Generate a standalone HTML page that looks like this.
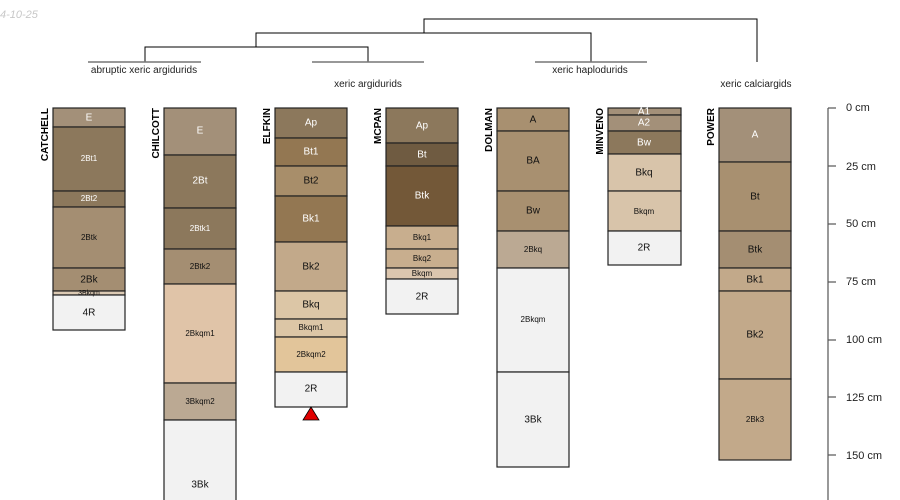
<!DOCTYPE html>
<html><head><meta charset="utf-8"><style>
html,body{margin:0;padding:0;background:#fff;width:900px;height:500px;overflow:hidden}
svg{display:block}
text{font-family:"Liberation Sans",sans-serif}
</style></head><body>
<svg width="900" height="500" viewBox="0 0 900 500" xmlns="http://www.w3.org/2000/svg">
<text x="0" y="18" font-size="11" font-style="italic" fill="#c8c8c8">4-10-25</text>

<!-- dendrogram -->
<g stroke="#000" stroke-width="1" fill="none">
<polyline points="145,62 145,47 368,47 368,62"/>
<polyline points="256,47 256,33 591,33 591,62"/>
<polyline points="424,33 424,19 757,19 757,62"/>
</g>
<g stroke="#777" stroke-width="1.5">
<line x1="88" y1="62" x2="201" y2="62"/>
<line x1="312" y1="62" x2="424" y2="62"/>
<line x1="535" y1="62" x2="647" y2="62"/>
</g>
<g font-size="10" fill="#222" text-anchor="middle">
<text x="144" y="73">abruptic xeric argidurids</text>
<text x="368" y="87">xeric argidurids</text>
<text x="590" y="73">xeric haplodurids</text>
<text x="756" y="87">xeric calciargids</text>
</g>

<!-- profile names -->
<g font-size="10" font-weight="bold" fill="#000" text-anchor="end">
<text transform="translate(48,108) rotate(-90)">CATCHELL</text>
<text transform="translate(159,108) rotate(-90)">CHILCOTT</text>
<text transform="translate(270,108) rotate(-90)">ELFKIN</text>
<text transform="translate(381,108) rotate(-90)">MCPAN</text>
<text transform="translate(492,108) rotate(-90)">DOLMAN</text>
<text transform="translate(603,108) rotate(-90)">MINVENO</text>
<text transform="translate(714,108) rotate(-90)">POWER</text>
</g>

<g stroke="#222" stroke-width="1.2">
<!-- CATCHELL x53 w72 -->
<rect x="53" y="108" width="72" height="19" fill="#a39079"/>
<rect x="53" y="127" width="72" height="64" fill="#8c785c"/>
<rect x="53" y="191" width="72" height="16" fill="#8c785c"/>
<rect x="53" y="207" width="72" height="61" fill="#a48e72"/>
<rect x="53" y="268" width="72" height="23" fill="#a48e72"/>
<rect x="53" y="291" width="72" height="4" fill="#dccab4"/>
<rect x="53" y="295" width="72" height="35" fill="#f2f2f2"/>
<!-- CHILCOTT -->
<rect x="164" y="108" width="72" height="47" fill="#a39079"/>
<rect x="164" y="155" width="72" height="53" fill="#8c785c"/>
<rect x="164" y="208" width="72" height="41" fill="#8c785c"/>
<rect x="164" y="249" width="72" height="35" fill="#a48e72"/>
<rect x="164" y="284" width="72" height="99" fill="#e0c4a8"/>
<rect x="164" y="383" width="72" height="37" fill="#bba993"/>
<rect x="164" y="420" width="72" height="85" fill="#f2f2f2"/>
<!-- ELFKIN -->
<rect x="275" y="108" width="72" height="30" fill="#8c785c"/>
<rect x="275" y="138" width="72" height="28" fill="#937752"/>
<rect x="275" y="166" width="72" height="30" fill="#a88e6a"/>
<rect x="275" y="196" width="72" height="46" fill="#937752"/>
<rect x="275" y="242" width="72" height="49" fill="#c2a98a"/>
<rect x="275" y="291" width="72" height="28" fill="#dcc6a6"/>
<rect x="275" y="319" width="72" height="18" fill="#dcc6a6"/>
<rect x="275" y="337" width="72" height="35" fill="#e2c59a"/>
<rect x="275" y="372" width="72" height="35" fill="#f2f2f2"/>
<!-- MCPAN -->
<rect x="386" y="108" width="72" height="35" fill="#8c785c"/>
<rect x="386" y="143" width="72" height="23" fill="#6f5b41"/>
<rect x="386" y="166" width="72" height="60" fill="#735838"/>
<rect x="386" y="226" width="72" height="23" fill="#c8ae8e"/>
<rect x="386" y="249" width="72" height="19" fill="#c8ae8e"/>
<rect x="386" y="268" width="72" height="11" fill="#dcc6ae"/>
<rect x="386" y="279" width="72" height="35" fill="#f2f2f2"/>
<!-- DOLMAN -->
<rect x="497" y="108" width="72" height="23" fill="#a89070"/>
<rect x="497" y="131" width="72" height="60" fill="#a89070"/>
<rect x="497" y="191" width="72" height="40" fill="#a89070"/>
<rect x="497" y="231" width="72" height="37" fill="#bba993"/>
<rect x="497" y="268" width="72" height="104" fill="#f2f2f2"/>
<rect x="497" y="372" width="72" height="95" fill="#f2f2f2"/>
<!-- MINVENO -->
<rect x="608" y="108" width="73" height="7" fill="#a39079"/>
<rect x="608" y="115" width="73" height="16" fill="#a39079"/>
<rect x="608" y="131" width="73" height="23" fill="#8c785c"/>
<rect x="608" y="154" width="73" height="37" fill="#d8c4aa"/>
<rect x="608" y="191" width="73" height="40" fill="#d8c4aa"/>
<rect x="608" y="231" width="73" height="34" fill="#f2f2f2"/>
<!-- POWER -->
<rect x="719" y="108" width="72" height="54" fill="#a39079"/>
<rect x="719" y="162" width="72" height="69" fill="#a89070"/>
<rect x="719" y="231" width="72" height="37" fill="#a48e72"/>
<rect x="719" y="268" width="72" height="23" fill="#c2a98a"/>
<rect x="719" y="291" width="72" height="88" fill="#c2a98a"/>
<rect x="719" y="379" width="72" height="81" fill="#c2a98a"/>
</g>

<polygon points="311,407 303,420 319,420" fill="#e00000" stroke="#000" stroke-width="0.8"/>

<!-- horizon labels -->
<g text-anchor="middle" dominant-baseline="middle" font-size="10">
<g fill="#fff"><text x="89" y="118">E</text><text x="89" y="159" font-size="8">2Bt1</text><text x="89" y="199" font-size="8">2Bt2</text>
<text x="200" y="131">E</text><text x="200" y="181">2Bt</text><text x="200" y="229" font-size="8">2Btk1</text>
<text x="311" y="123">Ap</text><text x="311" y="152">Bt1</text><text x="311" y="219">Bk1</text>
<text x="422" y="126">Ap</text><text x="422" y="155">Bt</text><text x="422" y="196">Btk</text>
<text x="644" y="112">A1</text><text x="644" y="123">A2</text><text x="644" y="143">Bw</text>
<text x="755" y="135">A</text></g>
<g fill="#111">
<text x="89" y="238" font-size="8">2Btk</text><text x="89" y="280">2Bk</text><text x="89" y="293" font-size="7">3Bkqm</text><text x="89" y="313">4R</text>
<text x="200" y="267" font-size="8">2Btk2</text><text x="200" y="334" font-size="8">2Bkqm1</text><text x="200" y="402" font-size="8">3Bkqm2</text><text x="200" y="485">3Bk</text>
<text x="311" y="181">Bt2</text><text x="311" y="267">Bk2</text><text x="311" y="305">Bkq</text><text x="311" y="328" font-size="8">Bkqm1</text><text x="311" y="355" font-size="8">2Bkqm2</text><text x="311" y="389">2R</text>
<text x="422" y="238" font-size="8">Bkq1</text><text x="422" y="259" font-size="8">Bkq2</text><text x="422" y="274" font-size="8">Bkqm</text><text x="422" y="297">2R</text>
<text x="533" y="120">A</text><text x="533" y="161">BA</text><text x="533" y="211">Bw</text><text x="533" y="250" font-size="8">2Bkq</text><text x="533" y="320" font-size="8">2Bkqm</text><text x="533" y="420">3Bk</text>
<text x="644" y="173">Bkq</text><text x="644" y="212" font-size="8">Bkqm</text><text x="644" y="248">2R</text>
<text x="755" y="197">Bt</text><text x="755" y="250">Btk</text><text x="755" y="280">Bk1</text><text x="755" y="335">Bk2</text><text x="755" y="420" font-size="8">2Bk3</text>
</g></g>

<!-- depth axis -->
<g stroke="#555" stroke-width="1.2">
<line x1="828" y1="108" x2="828" y2="500"/>
<line x1="828" y1="108" x2="836" y2="108"/>
<line x1="828" y1="166" x2="836" y2="166"/>
<line x1="828" y1="224" x2="836" y2="224"/>
<line x1="828" y1="282" x2="836" y2="282"/>
<line x1="828" y1="340" x2="836" y2="340"/>
<line x1="828" y1="397" x2="836" y2="397"/>
<line x1="828" y1="455" x2="836" y2="455"/>
</g>
<g font-size="11" fill="#222" dominant-baseline="middle">
<text x="846" y="108">0 cm</text><text x="846" y="167">25 cm</text><text x="846" y="224">50 cm</text><text x="846" y="282">75 cm</text><text x="846" y="340">100 cm</text><text x="846" y="398">125 cm</text><text x="846" y="456">150 cm</text>
</g>
</svg>
</body></html>
